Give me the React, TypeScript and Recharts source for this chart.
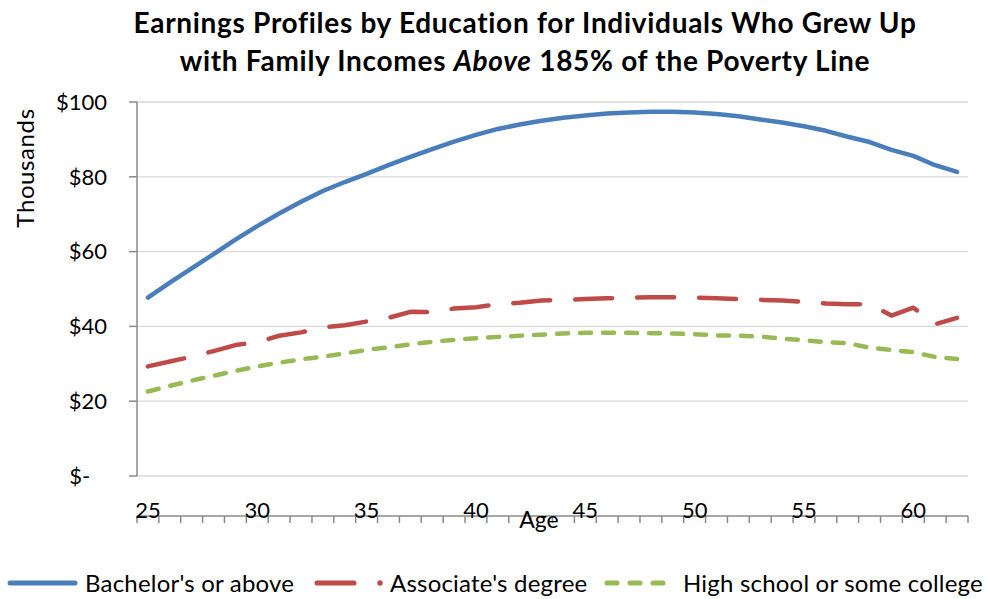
import React from 'react'
import { LineChart, Line, XAxis, YAxis, CartesianGrid } from 'recharts'

const ages = [
  25, 26, 27, 28, 29, 30, 31, 32, 33, 34, 35, 36, 37, 38, 39, 40, 41, 42, 43,
  44, 45, 46, 47, 48, 49, 50, 51, 52, 53, 54, 55, 56, 57, 58, 59, 60, 61, 62,
]

// earnings in thousands of dollars
const bachelors = [
  47.7, 51.7, 55.5, 59.3, 63.2, 66.8, 70.2, 73.3, 76.2, 78.6, 80.8, 83.1, 85.3,
  87.4, 89.4, 91.2, 92.8, 94.0, 95.0, 95.8, 96.4, 96.9, 97.2, 97.4, 97.4, 97.2,
  96.8, 96.2, 95.3, 94.5, 93.5, 92.3, 90.7, 89.3, 87.2, 85.6, 83.1, 81.3,
]
const associates = [
  29.3, 30.6, 31.9, 33.4, 35.0, 35.8, 37.5, 38.4, 39.7, 40.3, 41.3, 42.3, 43.9,
  43.8, 44.8, 45.1, 46.0, 46.3, 46.9, 47.1, 47.3, 47.5, 47.7, 47.8, 47.8, 47.7,
  47.5, 47.3, 47.1, 46.9, 46.6, 46.1, 45.9, 45.9, 42.9, 45.0, 40.6, 42.3,
]
const highSchool = [
  22.6, 24.1, 25.5, 26.8, 28.1, 29.3, 30.3, 31.2, 31.9, 32.8, 33.7, 34.4, 35.2,
  35.9, 36.4, 36.8, 37.2, 37.5, 37.8, 38.1, 38.3, 38.3, 38.3, 38.2, 38.1, 37.9,
  37.6, 37.5, 37.3, 36.7, 36.3, 35.8, 35.5, 34.3, 33.7, 33.1, 31.8, 31.3,
]

const ageLabels = [25, 30, 35, 40, 45, 50, 55, 60]
const yTicks = [0, 20, 40, 60, 80, 100]

const BLUE = '#4A7EBB'
const RED = '#BE4B48'
const GREEN = '#98B954'
const AXIS = '#8A8A8A'
const FONT = 'Lato, "Open Sans", sans-serif'

const data = ages.map((age, i) => ({
  age,
  bachelors: bachelors[i],
  associates: associates[i],
  highSchool: highSchool[i],
}))

// Excel-style tick marks sit between the age categories
const ageEdges = [...ages.map(a => a - 0.5), ages[ages.length - 1] + 0.5]
const xDomain = [ageEdges[0], ageEdges[ageEdges.length - 1]]

const legendText: React.CSSProperties = {
  position: 'absolute',
  top: 568,
  fontSize: 24,
  lineHeight: '30px',
  whiteSpace: 'nowrap',
  letterSpacing: 0.2,
}

export default function App() {
  return (
    <div
      style={{
        position: 'absolute',
        left: 0,
        top: 0,
        width: 987,
        height: 599,
        background: '#fff',
        fontFamily: FONT,
        color: '#000',
      }}
    >
      <div
        style={{
          position: 'absolute',
          left: 125,
          top: 3,
          width: 800,
          textAlign: 'center',
          fontWeight: 700,
          fontSize: 28,
          letterSpacing: 0.7,
          lineHeight: '38px',
        }}
      >
        Earnings Profiles by Education for Individuals Who Grew Up
        <br />
        with Family Incomes <i>Above</i> 185% of the Poverty Line
      </div>

      <LineChart
        width={987}
        height={599}
        data={data}
        margin={{ top: 102, right: 19, left: 0, bottom: 75 }}
        style={{ position: 'absolute', left: 0, top: 0 }}
      >
        <CartesianGrid xAxisId="tk" vertical={false} stroke="#D9D9D9" strokeWidth={1.3} />
        <XAxis
          xAxisId="tk"
          dataKey="age"
          type="number"
          domain={xDomain}
          allowDataOverflow
          ticks={ageEdges}
          interval={0}
          tickFormatter={() => ''}
          tickSize={7}
          height={8}
          stroke={AXIS}
          strokeWidth={1.5}
        />
        <XAxis
          xAxisId="lab"
          dataKey="age"
          type="number"
          domain={xDomain}
          allowDataOverflow
          ticks={ageLabels}
          interval={0}
          axisLine={false}
          tickLine={false}
          tickSize={0}
          tickMargin={26}
          height={40}
          tick={{ fill: '#000', fontSize: 22, fontFamily: FONT }}
        />
        <YAxis
          domain={[0, 100]}
          ticks={yTicks}
          interval={0}
          width={137}
          tickSize={8}
          tickMargin={22}
          stroke={AXIS}
          strokeWidth={1.5}
          tick={{ fill: '#000', fontSize: 22, fontFamily: FONT }}
          tickFormatter={(v: number) => (v === 0 ? '$-\u00a0\u00a0\u00a0' : `$${v}`)}
        />
        <Line
          xAxisId="tk"
          dataKey="bachelors"
          type="linear"
          stroke={BLUE}
          strokeWidth={4.5}
          strokeLinecap="round"
          strokeLinejoin="round"
          dot={false}
          isAnimationActive={false}
        />
        <Line
          xAxisId="tk"
          dataKey="associates"
          type="linear"
          stroke={RED}
          strokeWidth={4.5}
          strokeDasharray="37 25"
          strokeLinecap="round"
          strokeLinejoin="round"
          dot={false}
          isAnimationActive={false}
        />
        <Line
          xAxisId="tk"
          dataKey="highSchool"
          type="linear"
          stroke={GREEN}
          strokeWidth={4.5}
          strokeDasharray="11 12"
          strokeLinecap="round"
          strokeLinejoin="round"
          dot={false}
          isAnimationActive={false}
        />
      </LineChart>

      <div
        style={{
          position: 'absolute',
          left: 24,
          top: 168,
          fontSize: 24,
          letterSpacing: 0.6,
          transform: 'translate(-50%, -50%) rotate(-90deg)',
          whiteSpace: 'nowrap',
        }}
      >
        Thousands
      </div>
      <div
        style={{
          position: 'absolute',
          left: 539,
          top: 519,
          fontSize: 23,
          transform: 'translate(-50%, -50%)',
        }}
      >
        Age
      </div>

      <svg width={987} height={20} style={{ position: 'absolute', left: 0, top: 573 }}>
        <line x1={10} y1={10} x2={75} y2={10} stroke={BLUE} strokeWidth={5} strokeLinecap="round" />
        <line x1={317} y1={10} x2={354} y2={10} stroke={RED} strokeWidth={5} strokeLinecap="round" />
        <circle cx={380} cy={10} r={2.7} fill={RED} />
        <line x1={607} y1={10} x2={666} y2={10} stroke={GREEN} strokeWidth={5}
          strokeLinecap="round" strokeDasharray="10 13" />
      </svg>
      <div style={{ ...legendText, left: 85 }}>Bachelor's or above</div>
      <div style={{ ...legendText, left: 390 }}>Associate's degree</div>
      <div style={{ ...legendText, left: 683 }}>High school or some college</div>
    </div>
  )
}
